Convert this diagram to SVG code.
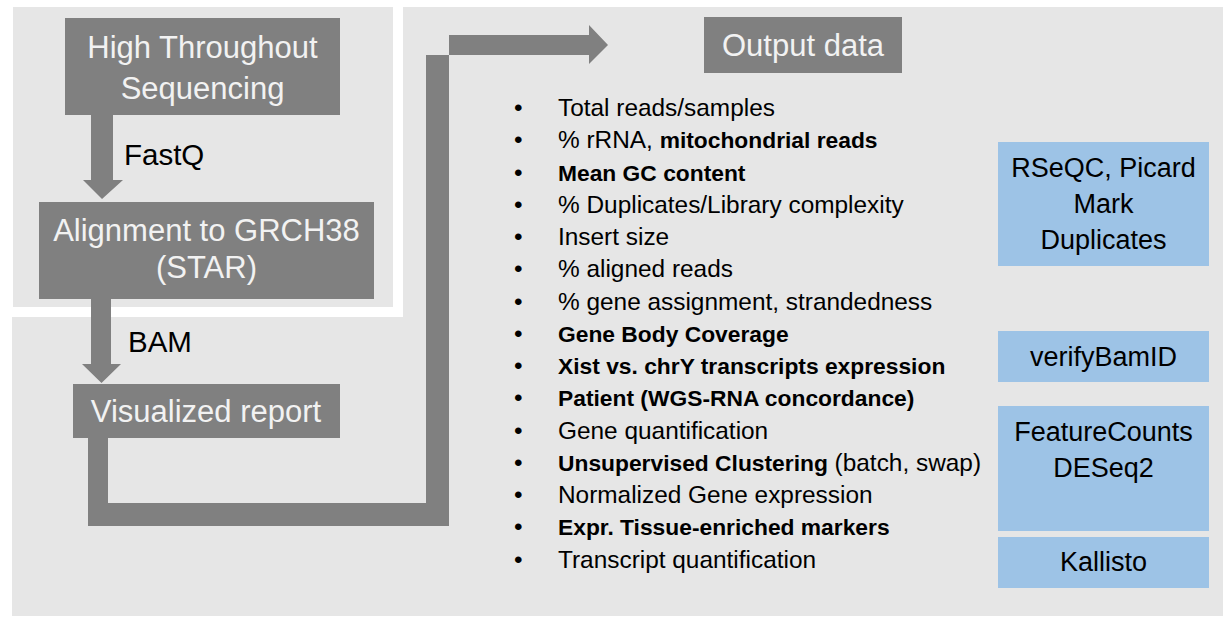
<svg xmlns="http://www.w3.org/2000/svg" width="1226" height="617" viewBox="0 0 1226 617">
<style>
.panel{fill:#e6e6e6}
.dark{fill:#808080}
.blue{fill:#9dc3e6}
.wt{font-family:"Liberation Sans",Arial,sans-serif;font-size:31px;fill:#f2f2f2;text-anchor:middle}
.lbl{font-family:"Liberation Sans",Arial,sans-serif;font-size:29.5px;fill:#000}
.bt{font-family:"Liberation Sans",Arial,sans-serif;font-size:27px;fill:#000;text-anchor:middle}
.li{font-family:"Liberation Sans",Arial,sans-serif;font-size:24.4px;fill:#000}
.b{font-weight:bold;font-size:22.8px}
</style>
<rect width="1226" height="617" fill="#ffffff"/>
<g id="panels">
<rect class="panel" x="13" y="7" width="380" height="300"/>
<polygon class="panel" points="403,7 1223,7 1223,616 12,616 12,317 403,317"/>
</g>
<g id="connectors">
<polygon class="dark" points="91,115 113,115 113,180 123,180 102,199 83,180 91,180"/>
<polygon class="dark" points="91,299 111,299 111,364 121,364 101.5,383 82,364 91,364"/>
<polygon class="dark" points="88,438 108,438 108,503 426,503 426,55 589,55 589,64 608,45 589,25 589,35 449,35 449,526 88,526"/>
<text class="lbl" x="124" y="165">FastQ</text>
<text class="lbl" x="128" y="352">BAM</text>
</g>
<g id="node-sequencing">
<rect class="dark" x="65" y="18" width="275" height="97"/>
<text class="wt" x="202.5" y="58">High Throughout</text>
<text class="wt" x="202.5" y="99">Sequencing</text>
</g>
<g id="node-alignment">
<rect class="dark" x="39" y="202" width="335" height="97"/>
<text class="wt" x="206.5" y="240.5">Alignment to GRCH38</text>
<text class="wt" x="206.5" y="278">(STAR)</text>
</g>
<g id="node-report">
<rect class="dark" x="73" y="384" width="267" height="54"/>
<text class="wt" x="206" y="422">Visualized report</text>
</g>
<g id="node-output">
<rect class="dark" x="704" y="17" width="198" height="56"/>
<text class="wt" x="803" y="56">Output data</text>
</g>
<g id="list">
<g class="li">
<text x="514" y="116">•</text>
<text x="514" y="148.25">•</text>
<text x="514" y="180.5">•</text>
<text x="514" y="212.75">•</text>
<text x="514" y="245">•</text>
<text x="514" y="277.25">•</text>
<text x="514" y="309.5">•</text>
<text x="514" y="341.75">•</text>
<text x="514" y="374">•</text>
<text x="514" y="406.25">•</text>
<text x="514" y="438.5">•</text>
<text x="514" y="470.75">•</text>
<text x="514" y="503">•</text>
<text x="514" y="535.25">•</text>
<text x="514" y="567.5">•</text>
</g>
<g class="li">
<text x="558" y="116">Total reads/samples</text>
<text x="558" y="148.25">% rRNA, <tspan class="b">mitochondrial reads</tspan></text>
<text x="558" y="180.5" class="b">Mean GC content</text>
<text x="558" y="212.75">% Duplicates/Library complexity</text>
<text x="558" y="245">Insert size</text>
<text x="558" y="277.25">% aligned reads</text>
<text x="558" y="309.5">% gene assignment, strandedness</text>
<text x="558" y="341.75" class="b">Gene Body Coverage</text>
<text x="558" y="374" class="b">Xist vs. chrY transcripts expression</text>
<text x="558" y="406.25" class="b">Patient (WGS-RNA concordance)</text>
<text x="558" y="438.5">Gene quantification</text>
<text x="558" y="470.75"><tspan class="b">Unsupervised Clustering</tspan> (batch, swap)</text>
<text x="558" y="503">Normalized Gene expression</text>
<text x="558" y="535.25" class="b">Expr. Tissue-enriched markers</text>
<text x="558" y="567.5">Transcript quantification</text>
</g>
</g>
<g id="node-rseqc">
<rect class="blue" x="998" y="142" width="211" height="124"/>
<text class="bt" x="1103.5" y="177">RSeQC, Picard</text>
<text class="bt" x="1103.5" y="213">Mark</text>
<text class="bt" x="1103.5" y="249">Duplicates</text>
</g>
<g id="node-verifybamid">
<rect class="blue" x="998" y="331" width="211" height="51"/>
<text class="bt" x="1103.5" y="366">verifyBamID</text>
</g>
<g id="node-featurecounts">
<rect class="blue" x="998" y="406" width="211" height="125"/>
<text class="bt" x="1103.5" y="441">FeatureCounts</text>
<text class="bt" x="1103.5" y="477">DESeq2</text>
</g>
<g id="node-kallisto">
<rect class="blue" x="998" y="537" width="211" height="51"/>
<text class="bt" x="1103.5" y="571">Kallisto</text>
</g>
</svg>
